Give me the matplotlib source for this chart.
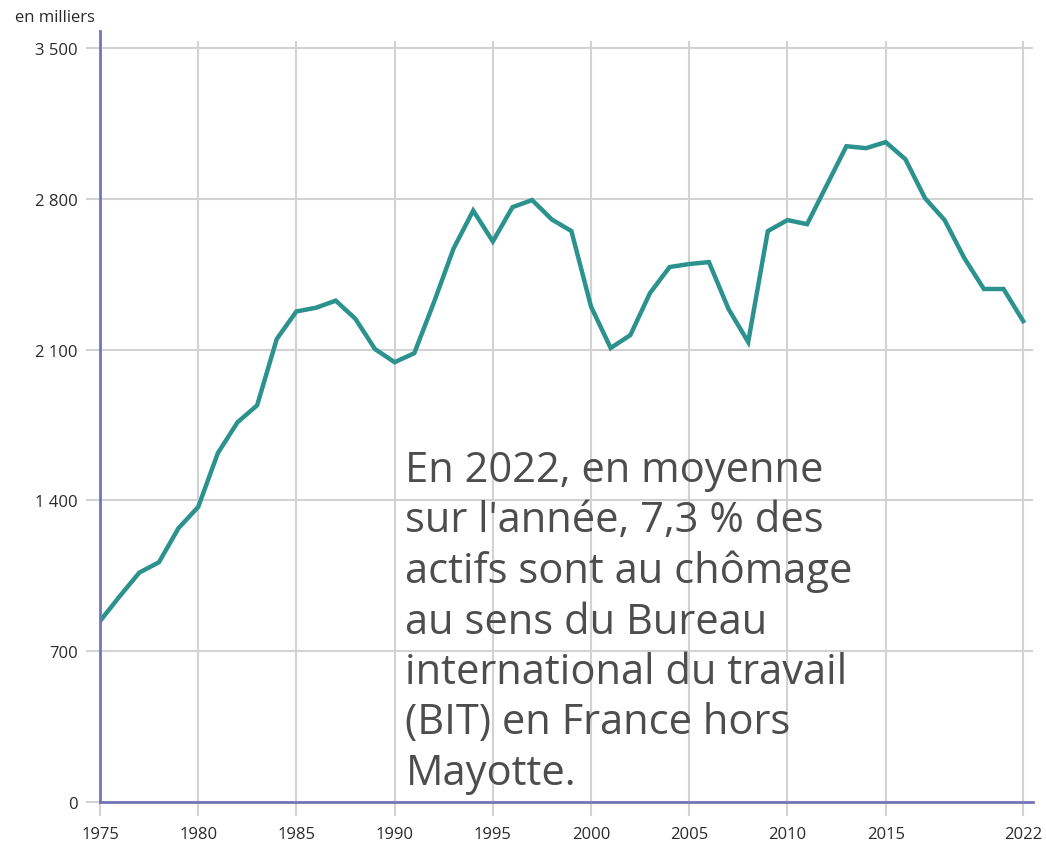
#!/usr/bin/env python3
# -*- coding: utf-8 -*-
"""
Chômage au sens du BIT en France hors Mayotte, 1975-2022 (en milliers).
"""

import matplotlib
matplotlib.use('Agg')
import matplotlib.pyplot as PyPlot
from matplotlib.ticker import FuncFormatter

# Data (thousands of unemployed)
years = list(range(1975, 2023))
chomeurs = [840, 955, 1065, 1113, 1272, 1370, 1620, 1763, 1842, 2150,
            2278, 2295, 2328, 2244, 2103, 2042, 2084, 2320, 2570, 2746,
            2603, 2762, 2795, 2705, 2651, 2300, 2108, 2168, 2363, 2484,
            2498, 2507, 2289, 2136, 2651, 2702, 2683, 2864, 3045, 3036,
            3064, 2985, 2804, 2702, 2526, 2382, 2382, 2233]
yTicks = [0, 700, 1400, 2100, 2800, 3500]
xTicks = [1975, 1980, 1985, 1990, 1995, 2000, 2005, 2010, 2015, 2022]
note = ("En 2022, en moyenne\nsur l'année, 7,3 % des\nactifs sont au chômage\n"
        "au sens du Bureau\ninternational du travail\n(BIT) en France hors\nMayotte.")

lineColor = '#2b928e'
axisColor = '#7474b8'
gridColor = '#d2d2d2'
textColor = '#2a2a2a'

PyPlot.rcParams['font.family'] = ['Open Sans', 'DejaVu Sans']

figure = PyPlot.figure(figsize = (10.46, 8.45), dpi = 100)
W, H = 1046, 845
x0, x1, y0, y1 = 100, 1033, 803, 32
axes = figure.add_axes([x0 / W, 1 - y0 / H, (x1 - x0) / W, (y0 - y1) / H])

axes.set_xlim(1975, 2022.5)
axes.set_ylim(0, 3580)

# Grid lines
for Y in yTicks:
    axes.axhline(Y, color = gridColor, linewidth = 1.5, zorder = 1)
for X in xTicks:
    axes.axvline(X, ymax = 3530 / 3580, color = gridColor, linewidth = 1.5, zorder = 1)

# Series
axes.plot(years, chomeurs, color = lineColor, linewidth = 3.2,
          solid_joinstyle = 'miter', zorder = 3)

# Spines
for side in ['top', 'right']:
    axes.spines[side].set_visible(False)
for side in ['left', 'bottom']:
    axes.spines[side].set_color(axisColor)
    axes.spines[side].set_linewidth(2)
    axes.spines[side].set_zorder(4)

# Ticks
axes.set_xticks(xTicks)
axes.set_yticks(yTicks)
axes.yaxis.set_major_formatter(FuncFormatter(
    lambda v, p: '{:,.0f}'.format(v).replace(',', ' ')))
axes.tick_params(axis = 'both', length = 10, width = 1.5, color = gridColor,
                 labelsize = 12, labelcolor = textColor)
axes.tick_params(axis = 'x', pad = 7)
axes.tick_params(axis = 'y', pad = 6)

# Unit label
figure.text(15 / W, 1 - 18 / H, 'en milliers', fontsize = 12, color = textColor,
            ha = 'left', va = 'center')

# Note
axes.text(1990.55, 1639, note, fontsize = 30, color = '#4d4d4d',
          ha = 'left', va = 'top', linespacing = 1.26, zorder = 5)

figure.savefig('out.png', format = 'png')
